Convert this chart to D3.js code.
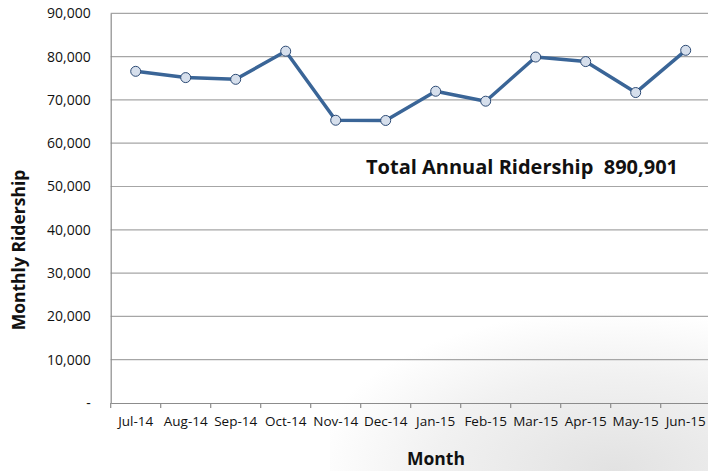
<!DOCTYPE html>
<html lang="en">
<head>
    <meta charset="UTF-8">
    <title>Monthly Ridership</title>
    <script src="https://cdn.jsdelivr.net/npm/d3@7"></script>
    <style>
        body{margin:0;background:#fff;}
        text{font-family:"Open Sans",Lato,sans-serif;fill:#111;}
    </style>
</head>
<body>
<svg width="708" height="471"></svg>
<script>
    // data
    var months = ["Jul-14","Aug-14","Sep-14","Oct-14","Nov-14","Dec-14","Jan-15","Feb-15","Mar-15","Apr-15","May-15","Jun-15"];
    var ridership = [76600, 75150, 74750, 81250, 65300, 65250, 72000, 69700, 79900, 78850, 71700, 81450];
    var yTicks = [0, 10000, 20000, 30000, 40000, 50000, 60000, 70000, 80000, 90000];
    var totalLabel = "Total Annual Ridership\u00a0\u00a0890,901";

    var svg = d3.select("svg");
    var plotLeft = 110.7, plotRight = 710.7, plotTop = 13.3, plotBottom = 403;

    // faint grey backdrop in lower right (photo watermark in original)
    var defs = svg.append("defs");
    var grad = defs.append("radialGradient").attr("id","bg")
        .attr("cx","0.75").attr("cy","1").attr("r","0.8");
    grad.append("stop").attr("offset","0%").attr("stop-color","#e2e2e2");
    grad.append("stop").attr("offset","60%").attr("stop-color","#f1f1f1");
    grad.append("stop").attr("offset","100%").attr("stop-color","#ffffff");
    svg.append("rect").attr("x",330).attr("y",270).attr("width",378).attr("height",201)
        .attr("fill","url(#bg)");

    var x = d3.scaleBand().domain(months).range([plotLeft, plotRight]);
    var y = d3.scaleLinear().domain([0, 90000]).range([plotBottom, plotTop]);

    // gridlines
    svg.append("g").selectAll("line")
        .data(yTicks.slice(1))
        .enter().append("line")
        .attr("x1", plotLeft).attr("x2", 708)
        .attr("y1", function(d){ return y(d); })
        .attr("y2", function(d){ return y(d); })
        .attr("stroke", "#a6a6a6").attr("stroke-width", 1.2);

    // y axis
    var yAxis = svg.append("g")
        .attr("transform","translate(" + plotLeft + ",0)")
        .call(d3.axisLeft(y).tickValues(yTicks).tickSize(0).tickPadding(20)
            .tickFormat(function(d){ return d === 0 ? "-" : d3.format(",")(d); }));
    yAxis.select(".domain").attr("stroke","#8c8c8c").attr("stroke-width",1.2);
    yAxis.selectAll("text").style("font-size","14px").attr("fill","#111");

    // x axis
    var xAxis = svg.append("g")
        .attr("transform","translate(0," + plotBottom + ")")
        .call(d3.axisBottom(x).tickSize(0).tickPadding(13));
    xAxis.select(".domain").attr("stroke","#8c8c8c").attr("stroke-width",1.2);
    xAxis.selectAll("text").style("font-size","13.5px").attr("fill","#111");
    // tick marks at band boundaries
    svg.append("g").selectAll("line")
        .data(months)
        .enter().append("line")
        .attr("x1", function(d){ return x(d); })
        .attr("x2", function(d){ return x(d); })
        .attr("y1", plotBottom).attr("y2", plotBottom + 5)
        .attr("stroke", "#8c8c8c").attr("stroke-width", 1.2);

    // line
    var line = d3.line()
        .x(function(d,i){ return x(months[i]) + x.bandwidth()/2; })
        .y(function(d){ return y(d); });
    svg.append("path")
        .datum(ridership)
        .attr("d", line)
        .attr("fill","none")
        .attr("stroke","#3a6597")
        .attr("stroke-width",3.5)
        .attr("stroke-linejoin","round");

    svg.append("g").selectAll("circle")
        .data(ridership)
        .enter().append("circle")
        .attr("cx", function(d,i){ return x(months[i]) + x.bandwidth()/2; })
        .attr("cy", function(d){ return y(d); })
        .attr("r", 5)
        .attr("fill","#d6dfec")
        .attr("stroke","#2c4a74")
        .attr("stroke-width",1);

    // annotation
    svg.append("text")
        .attr("x", 366).attr("y", 174)
        .style("font-size","20px").style("font-weight","bold")
        .text(totalLabel);

    // axis titles
    svg.append("text")
        .attr("transform","translate(25,250) rotate(-90)")
        .attr("text-anchor","middle")
        .style("font-size","17.5px").style("font-weight","bold")
        .text("Monthly Ridership");
    svg.append("text")
        .attr("x", 436).attr("y", 465)
        .attr("text-anchor","middle")
        .style("font-size","17.5px").style("font-weight","bold")
        .text("Month");
</script>
</body>
</html>
